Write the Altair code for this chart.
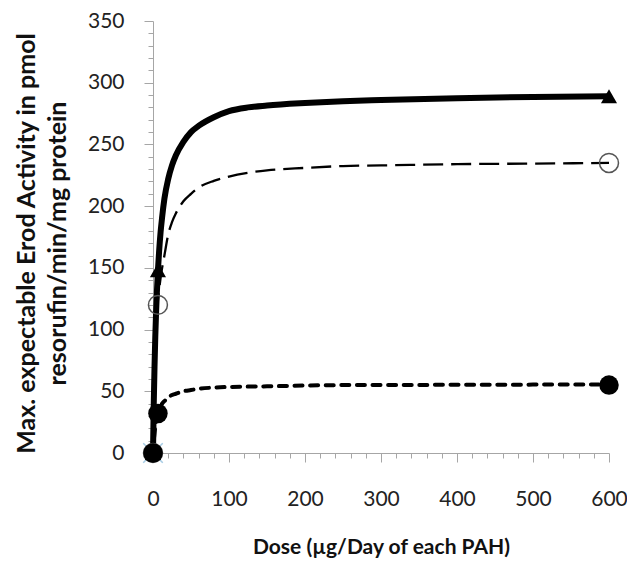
import altair as alt
import pandas as pd

# curve samples
dose = [0, 1, 2, 3, 4, 5, 6.5, 8, 10, 12, 15, 20, 25, 30, 40, 50, 60, 80, 100,
        125, 150, 200, 250, 300, 400, 500, 600]
curve_triangle = [0, 40, 70, 94, 113, 129, 148, 163, 179, 191, 206, 222, 233, 241,
                  252, 260, 265, 272, 277, 280, 281.5, 283.5, 285, 286, 287.5, 288.5, 289]
curve_open = [0, 34, 60, 79, 95, 108, 124, 132, 142, 150, 160, 177, 187, 194,
              204, 210, 215, 220.5, 224, 227, 229, 231, 232.5, 233, 234, 234.5, 235]
curve_filled = [0, 9.5, 16, 21, 25, 28, 32, 35, 37.5, 40, 42, 45, 47, 48,
                50, 51, 52, 53, 53.5, 53.8, 54, 54.7, 55, 55, 55.3, 55.4, 55.5]

# measured points
marker_dose = [0, 6.5, 600]
triangle_vals = [0, 148, 289]
open_vals = [0, 120, 235]
filled_vals = [0, 32, 55]

x_ticks = list(range(0, 601, 20))
y_ticks = list(range(0, 351, 10))

FONT = "Lato"

df_tri = pd.DataFrame({"dose": dose, "v": curve_triangle})
df_open = pd.DataFrame({"dose": dose, "v": curve_open})
df_fill = pd.DataFrame({"dose": dose, "v": curve_filled})
m_tri = pd.DataFrame({"dose": marker_dose, "v": triangle_vals})
m_open = pd.DataFrame({"dose": marker_dose, "v": open_vals})
m_fill = pd.DataFrame({"dose": marker_dose, "v": filled_vals})
m_x = pd.DataFrame({"dose": [0], "v": [0]})

x_enc = alt.X(
    "dose:Q",
    scale=alt.Scale(domain=[0, 600], nice=False),
    axis=alt.Axis(
        values=x_ticks,
        labelExpr="datum.value % 100 === 0 ? datum.label : ''",
        tickSize={"condition": {"test": "datum.value % 100 === 0", "value": 9}, "value": 5},
        labelOverlap=False,
        labelFlush=False,
        grid=False,
        domainColor="#a6a6a6",
        tickColor="#a6a6a6",
        labelFont=FONT,
        labelFontSize=21,
        labelColor="#222222",
        labelPadding=26,
        title="Dose (µg/Day of each PAH)",
        titleFont=FONT,
        titleFontSize=21,
        titleFontWeight="bold",
        titleColor="#111111",
        titlePadding=27,
    ),
)
y_enc = alt.Y(
    "v:Q",
    scale=alt.Scale(domain=[0, 350], nice=False),
    axis=alt.Axis(
        values=y_ticks,
        labelExpr="datum.value % 50 === 0 ? datum.label : ''",
        tickSize={"condition": {"test": "datum.value % 50 === 0", "value": 9}, "value": 5},
        labelOverlap=False,
        labelFlush=False,
        grid=False,
        domainColor="#a6a6a6",
        tickColor="#a6a6a6",
        labelFont=FONT,
        labelFontSize=21,
        labelColor="#222222",
        labelPadding=20,
        title=["Max. expectable Erod Activity in pmol", "resorufin/min/mg protein"],
        titleFont=FONT,
        titleFontSize=25,
        titleFontWeight="bold",
        titleColor="#111111",
        titlePadding=17,
        titleLineHeight=31,
        titleY=222,
    ),
)

line_tri = alt.Chart(df_tri).mark_line(color="black", strokeWidth=6, interpolate="monotone").encode(x=x_enc, y=y_enc)
line_open = alt.Chart(df_open).mark_line(color="black", strokeWidth=2.3, strokeDash=[20, 8], interpolate="monotone").encode(x=x_enc, y=y_enc)
line_fill = alt.Chart(df_fill).mark_line(color="black", strokeWidth=4, strokeDash=[8, 7.6], strokeCap="round", interpolate="monotone").encode(x=x_enc, y=y_enc)

pt_x = alt.Chart(m_x).mark_point(shape="M-1,-1L1,1M-1,1L1,-1", filled=False, stroke="#7fb6d9", strokeWidth=1.5, size=380).encode(x=x_enc, y=y_enc)
pt_open = alt.Chart(m_open).mark_point(shape="circle", filled=False, stroke="#555555", strokeWidth=1.5, size=360, opacity=1).encode(x=x_enc, y=y_enc)
pt_tri = alt.Chart(m_tri).mark_point(shape="triangle-up", filled=True, color="black", size=260, opacity=1).encode(x=x_enc, y=y_enc)
pt_fill = alt.Chart(m_fill).mark_point(shape="circle", filled=True, color="black", size=380, opacity=1).encode(x=x_enc, y=y_enc)

chart = alt.layer(line_open, line_fill, line_tri, pt_x, pt_open, pt_tri, pt_fill).properties(
    width=456,
    height=432,
    autosize=alt.AutoSizeParams(type="none"),
    padding={"left": 145, "top": 13, "right": 18, "bottom": 106},
    background="white",
).configure_view(stroke=None)

chart.save("out.html", embed_options={"renderer": "svg", "actions": False})
